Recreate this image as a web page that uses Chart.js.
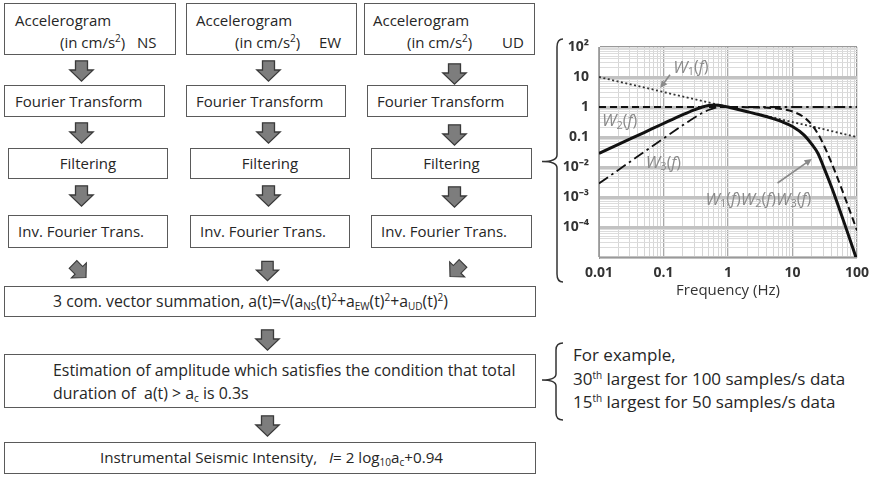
<!DOCTYPE html>
<html>
<head>
<meta charset="utf-8">
<script src="https://cdn.jsdelivr.net/npm/chart.js@4.4.1/dist/chart.umd.min.js"></script>
<style>
  html, body { margin: 0; padding: 0; background: #fff; }
  #fig { position: relative; width: 877px; height: 477px; overflow: hidden;
         font-family: 'Open Sans', sans-serif; color: #262626; font-size: 15px; }
  .box { position: absolute; border: 1.5px solid #5a5a5a; box-sizing: border-box; background: #fff; }
  .t { position: absolute; white-space: nowrap; line-height: 18px; }
  .arr { position: absolute; width: 25px; height: 22px; overflow: visible; }
  .sp { font-size: 10px; position: relative; top: -6px; }
  .sb { font-size: 10px; position: relative; top: 3px; }
  #chartWrap { position: absolute; left: 540px; top: 0; width: 337px; height: 300px; }
  svg.brace { position: absolute; left: 0; top: 0; }
</style>
</head>
<body>
<div id="fig">
  <!-- row 1: accelerograms -->
  <div class="box" style="left:4px;top:3px;width:172px;height:52px"></div>
  <div class="box" style="left:186px;top:3px;width:171px;height:52px"></div>
  <div class="box" style="left:364px;top:3px;width:171px;height:52px"></div>
  <div class="t" style="left:15px;top:11px">Accelerogram</div>
  <div class="t" style="left:60px;top:33px">(in cm/s<span class="sp">2</span>)</div>
  <div class="t" style="left:137px;top:33px">NS</div>
  <div class="t" style="left:196px;top:11px">Accelerogram</div>
  <div class="t" style="left:235px;top:33px">(in cm/s<span class="sp">2</span>)</div>
  <div class="t" style="left:319px;top:33px">EW</div>
  <div class="t" style="left:373px;top:11px">Accelerogram</div>
  <div class="t" style="left:407px;top:33px">(in cm/s<span class="sp">2</span>)</div>
  <div class="t" style="left:502px;top:33px">UD</div>

  <!-- row 2 -->
  <div class="box" style="left:4px;top:85px;width:161px;height:32px"></div>
  <div class="box" style="left:186px;top:85px;width:160px;height:32px"></div>
  <div class="box" style="left:367px;top:85px;width:161px;height:32px"></div>
  <div class="t" style="left:15px;top:92px">Fourier Transform</div>
  <div class="t" style="left:196px;top:92px">Fourier Transform</div>
  <div class="t" style="left:377px;top:92px">Fourier Transform</div>

  <!-- row 3 -->
  <div class="box" style="left:8px;top:148px;width:160px;height:31px"></div>
  <div class="box" style="left:190px;top:148px;width:160px;height:31px"></div>
  <div class="box" style="left:371px;top:148px;width:161px;height:31px"></div>
  <div class="t" style="left:8px;width:160px;text-align:center;top:154px">Filtering</div>
  <div class="t" style="left:190px;width:160px;text-align:center;top:154px">Filtering</div>
  <div class="t" style="left:371px;width:161px;text-align:center;top:154px">Filtering</div>

  <!-- row 4 -->
  <div class="box" style="left:8px;top:215px;width:160px;height:33px"></div>
  <div class="box" style="left:190px;top:215px;width:160px;height:33px"></div>
  <div class="box" style="left:371px;top:215px;width:161px;height:33px"></div>
  <div class="t" style="left:18px;top:222px">Inv. Fourier Trans.</div>
  <div class="t" style="left:200px;top:222px">Inv. Fourier Trans.</div>
  <div class="t" style="left:381px;top:222px">Inv. Fourier Trans.</div>

  <!-- vector summation -->
  <div class="box" style="left:4px;top:286px;width:532px;height:31px"></div>
  <div class="t" style="left:53px;top:292px;font-size:15.8px">3 com. vector summation, a(t)=√(a<span class="sb">NS</span>(t)<span class="sp">2</span>+a<span class="sb">EW</span>(t)<span class="sp">2</span>+a<span class="sb">UD</span>(t)<span class="sp">2</span>)</div>

  <!-- estimation -->
  <div class="box" style="left:4px;top:354px;width:532px;height:54px"></div>
  <div class="t" style="left:53px;top:361px;font-size:15.9px">Estimation of amplitude which satisfies the condition that total</div>
  <div class="t" style="left:53px;top:384px;font-size:15.9px">duration of&nbsp; a(t) &gt; a<span class="sb">c</span> is 0.3s</div>

  <!-- intensity -->
  <div class="box" style="left:4px;top:442px;width:532px;height:32px"></div>
  <div class="t" style="left:100px;top:448px;font-size:15.2px">Instrumental Seismic Intensity,&nbsp;&nbsp; <i>I</i>= 2 log<span class="sb">10</span>a<span class="sb">c</span>+0.94</div>

  <!-- note -->
  <div class="t" style="left:573px;top:345px;font-size:17px;line-height:20px">For example,</div>
  <div class="t" style="left:573px;top:369px;font-size:17px;line-height:20px">30<span class="sp" style="font-size:10px">th</span> largest for 100 samples/s data</div>
  <div class="t" style="left:573px;top:392px;font-size:17px;line-height:20px">15<span class="sp" style="font-size:10px">th</span> largest for 50 samples/s data</div>

  <svg class="brace" width="877" height="477">
    <path d="M 563 39 Q 557 39 557 47 L 557 155 Q 557 161.5 542 161.5 Q 557 161.5 557 168 L 557 274 Q 557 282 563 282"
          fill="none" stroke="#333" stroke-width="1.5"/>
    <path d="M 563 343 Q 556 343 556 350 L 556 374 Q 556 380 542 380 Q 556 380 556 386 L 556 413 Q 556 420 563 420"
          fill="none" stroke="#333" stroke-width="1.5"/>
  </svg>

  <div id="chartWrap"><canvas id="c" width="337" height="300"></canvas></div>
</div>

<script>
// Flow arrows: centre x, top y, rotation (deg), scale
const flowArrows = [
  [81, 60, 0, 1], [268, 60, 0, 1], [454, 63, 0, 1],
  [81, 122, 0, 1], [268, 122, 0, 1], [454, 124, 0, 1],
  [81, 185, 0, 1], [268, 185, 0, 1], [454, 186, 0, 1],
  [79, 260, -45, 0.9], [267, 260, 0, 0.95], [456, 259, 45, 0.9],
  [267, 329, 0, 1], [267, 415, 0, 1]
];
const fig = document.getElementById('fig');
flowArrows.forEach(([cx, top, rot, sc]) => {
  const ns = 'http://www.w3.org/2000/svg';
  const svg = document.createElementNS(ns, 'svg');
  svg.setAttribute('class', 'arr');
  svg.setAttribute('viewBox', '0 0 25 22');
  svg.style.left = (cx - 12.5) + 'px';
  svg.style.top = top + 'px';
  svg.style.transform = 'rotate(' + rot + 'deg) scale(' + sc + ')';
  const p = document.createElementNS(ns, 'polygon');
  p.setAttribute('points', '6.5,0.8 18.5,0.8 18.5,10 24.2,10 12.5,21.2 0.8,10 6.5,10');
  p.setAttribute('fill', '#7d7d7d');
  p.setAttribute('stroke', '#3a3a3a');
  p.setAttribute('stroke-width', '1.3');
  p.setAttribute('stroke-linejoin', 'miter');
  svg.appendChild(p);
  fig.appendChild(svg);
});

// ---- filter responses ----
const freqW1 = [0.01, 0.1, 1, 10, 100];
const valW1  = [10, 3.16, 1, 0.316, 0.1];

const freqW2 = [0.01, 1, 2, 3, 5, 7, 10, 15, 20, 25, 30, 40, 50, 70, 100];
const valW2  = [1, 0.997, 0.986, 0.969, 0.917, 0.844, 0.707, 0.458, 0.253, 0.124, 0.0585, 0.0142, 0.00424, 0.000622, 0.0000768];

const freqW3 = [0.01, 0.02, 0.05, 0.1, 0.2, 0.3, 0.4, 0.5, 0.6, 0.7, 0.8, 1, 100];
const valW3  = [0.00283, 0.0080, 0.0316, 0.0893, 0.249, 0.441, 0.633, 0.795, 0.907, 0.967, 0.992, 1, 1];

const freqW = [0.01, 0.02, 0.05, 0.1, 0.2, 0.3, 0.4, 0.5, 0.6, 0.7, 0.8, 1, 2, 3, 5, 7, 10, 15, 20, 25, 30, 40, 50, 70, 100];
const valW  = [0.0283, 0.0566, 0.141, 0.282, 0.557, 0.805, 1.00, 1.12, 1.17, 1.15, 1.11, 0.996, 0.697, 0.560, 0.410, 0.319, 0.224, 0.118, 0.0565, 0.0277, 0.0107, 0.00225, 0.000599, 0.0000743, 0.00000768];

// ---- axes ----
const xMajor = [0.01, 0.1, 1, 10, 100];
const xTickLabels = ['0.01', '0.1', '1', '10', '100'];
const yMajor = [1e-5, 1e-4, 1e-3, 1e-2, 0.1, 1, 10, 100];
const yTickLabels = ['', '10⁻⁴', '10⁻³', '10⁻²', '0.1', '1', '10', '10²'];
const minorSteps = [2, 3, 4, 5, 6, 7, 8, 9];

function logTicks(majors) {
  const out = [];
  majors.forEach((d, i) => {
    out.push(d);
    if (i < majors.length - 1) minorSteps.forEach(m => out.push(Number((d * m).toPrecision(3))));
  });
  return out;
}
const xTickValues = logTicks(xMajor);
const yTickValues = logTicks(yMajor);

function majorIndex(majors, v) {
  return majors.findIndex(d => Math.abs(Math.log10(d) - Math.log10(v)) < 1e-6);
}
function pts(fs, vs) { return fs.map((f, i) => ({ x: f, y: vs[i] })); }

// curve annotations (frequency, value)
const termLabels = [
  { subs: ['1'], f: 0.142, v: 20.4 },
  { subs: ['2'], f: 0.0111, v: 0.331 },
  { subs: ['3'], f: 0.0533, v: 0.0136 },
  { subs: ['1', '2', '3'], f: 0.449, v: 8.1e-4 }
];
const pointerArrows = [
  { from: [0.126, 11.9], to: [0.0891, 4.3] },
  { from: [5.86, 2.93e-3], to: [19.9, 0.0185] }
];

const annotate = {
  id: 'annotate',
  afterDatasetsDraw(chart) {
    const { ctx, scales: { x, y } } = chart;
    ctx.save();
    ctx.fillStyle = '#8a8a8a';
    ctx.strokeStyle = '#8a8a8a';
    ctx.textBaseline = 'middle';
    ctx.textAlign = 'left';
    termLabels.forEach(l => {
      let px = x.getPixelForValue(l.f);
      const py = y.getPixelForValue(l.v);
      l.subs.forEach(s => {
        const put = (font, txt, dy) => {
          ctx.font = font;
          ctx.fillText(txt, px, py + dy);
          px += ctx.measureText(txt).width;
        };
        put('italic 17px "Open Sans"', 'W', 0);
        put('11px "Open Sans"', s, 4);
        put('16px "Open Sans"', '(', 0);
        put('italic 16px "Open Sans"', 'f', 0);
        put('16px "Open Sans"', ')', 0);
      });
    });
    pointerArrows.forEach(a => {
      const x1 = x.getPixelForValue(a.from[0]), y1 = y.getPixelForValue(a.from[1]);
      const x2 = x.getPixelForValue(a.to[0]), y2 = y.getPixelForValue(a.to[1]);
      const ang = Math.atan2(y2 - y1, x2 - x1);
      ctx.lineWidth = 1.6;
      ctx.beginPath();
      ctx.moveTo(x1, y1);
      ctx.lineTo(x2 - 5 * Math.cos(ang), y2 - 5 * Math.sin(ang));
      ctx.stroke();
      ctx.beginPath();
      ctx.moveTo(x2, y2);
      ctx.lineTo(x2 - 8 * Math.cos(ang - 0.45), y2 - 8 * Math.sin(ang - 0.45));
      ctx.lineTo(x2 - 8 * Math.cos(ang + 0.45), y2 - 8 * Math.sin(ang + 0.45));
      ctx.closePath();
      ctx.fill();
    });
    ctx.restore();
  }
};

const tickFont = { family: 'Open Sans', size: 14, weight: 'bold' };

new Chart(document.getElementById('c'), {
  type: 'line',
  data: {
    datasets: [
      { label: 'W1W2W3', data: pts(freqW, valW), borderColor: '#111', borderWidth: 3, cubicInterpolationMode: 'monotone' },
      { label: 'W2', data: pts(freqW2, valW2), borderColor: '#111', borderWidth: 2, borderDash: [7, 4], cubicInterpolationMode: 'monotone' },
      { label: 'W3', data: pts(freqW3, valW3), borderColor: '#111', borderWidth: 1.8, borderDash: [11, 4, 2.5, 4], cubicInterpolationMode: 'monotone' },
      { label: 'W1', data: pts(freqW1, valW1), borderColor: '#333', borderWidth: 1.8, borderDash: [2, 2.5] }
    ]
  },
  options: {
    responsive: false,
    animation: false,
    devicePixelRatio: 1,
    elements: { point: { radius: 0 } },
    layout: { padding: { left: 0, right: 14, top: 47, bottom: 0 } },
    plugins: { legend: { display: false }, tooltip: { enabled: false } },
    scales: {
      x: {
        type: 'logarithmic', min: 0.01, max: 100,
        afterBuildTicks: s => { s.ticks = xTickValues.map(v => ({ value: v })); },
        afterFit: s => { s.height = 43; },
        ticks: {
          autoSkip: false, maxRotation: 0, minRotation: 0, padding: 8,
          font: tickFont, color: '#333',
          callback: v => { const i = majorIndex(xMajor, v); return i >= 0 ? xTickLabels[i] : ''; }
        },
        grid: {
          drawTicks: false,
          color: c => { const i = majorIndex(xMajor, c.tick.value); return i < 0 ? '#d6d6d6' : (i === xMajor.length - 1 ? '#999' : '#a9a9a9'); },
          lineWidth: c => majorIndex(xMajor, c.tick.value) >= 0 ? 1.3 : 1
        },
        border: { display: true, color: '#999', width: 1 },
        title: { display: true, text: 'Frequency (Hz)', color: '#333', font: { family: 'Open Sans', size: 15 }, padding: { top: 0, bottom: 0 } }
      },
      y: {
        type: 'logarithmic', min: 1e-5, max: 100,
        afterBuildTicks: s => { s.ticks = yTickValues.map(v => ({ value: v })); },
        afterFit: s => { s.width = 59; },
        ticks: {
          autoSkip: false, padding: 10,
          font: tickFont, color: '#333',
          callback: v => { const i = majorIndex(yMajor, v); return i >= 0 ? yTickLabels[i] : ''; }
        },
        grid: {
          drawTicks: false,
          color: c => { const i = majorIndex(yMajor, c.tick.value); return i < 0 ? '#dcdcdc' : (i === yMajor.length - 1 ? '#999' : '#c2c2c2'); },
          lineWidth: c => { const i = majorIndex(yMajor, c.tick.value); return i < 0 ? 1 : (i === yMajor.length - 1 ? 1.2 : 3); }
        },
        border: { display: true, color: '#999', width: 1 }
      }
    }
  },
  plugins: [annotate]
});
</script>
</body>
</html>
